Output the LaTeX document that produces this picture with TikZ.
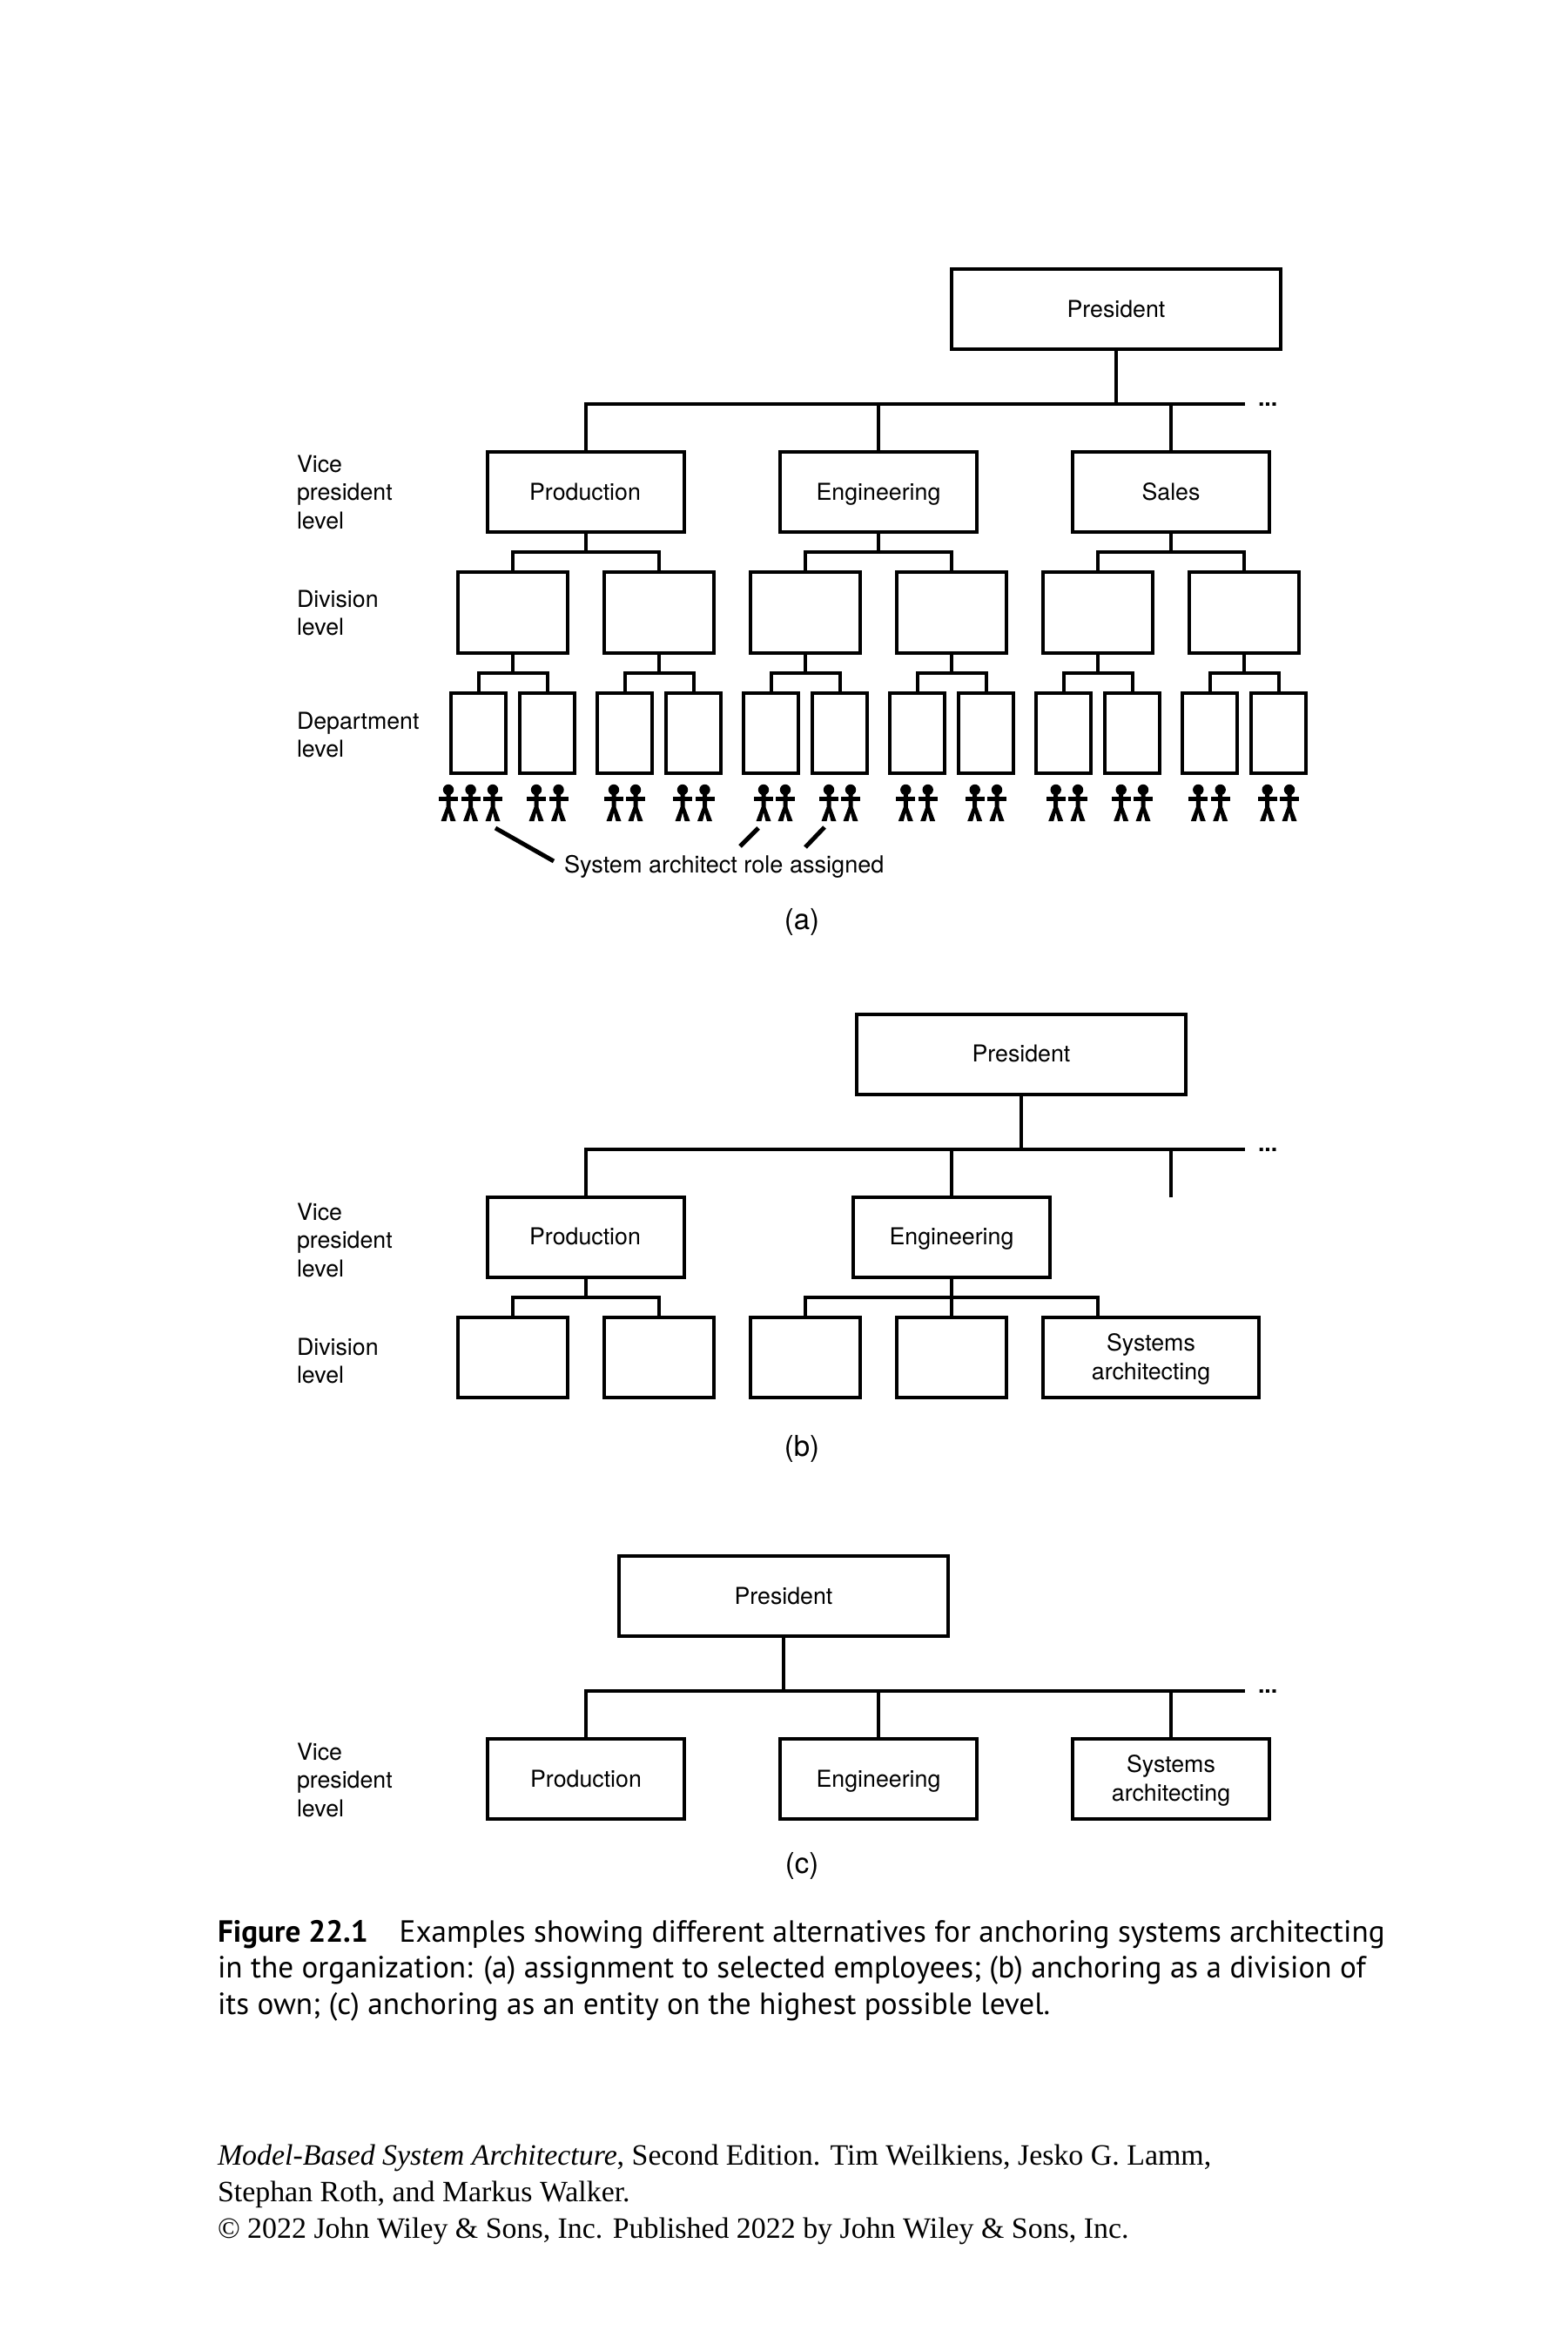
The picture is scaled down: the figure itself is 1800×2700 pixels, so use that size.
\documentclass[tikz,border=0pt]{standalone}
\usepackage{fontspec}
\setmainfont{TeX Gyre Heros}
\newfontfamily\capfont{PT Sans}
\newfontfamily\bookfont{Liberation Serif}
\newcommand{\PartFork}[3]{% parent, comma list of children, bus y
  \coordinate (forkTop) at (#1.south |- 0,#3);
  \draw[conn] (#1.south) -- (forkTop);
  \foreach \ch in {#2} {\draw[conn] (\ch.north) -- (\ch.north |- 0,#3);}
}
\newcommand{\Stick}[2]{% x position, node name
  \coordinate (#2) at (#1,907);
  \fill (#2) circle[radius=6.2];
  \fill ([shift={(-11,8)}]#2) rectangle ([shift={(11,13)}]#2);
  \fill ([shift={(-2.5,5)}]#2) -- ([shift={(2.5,5)}]#2) -- ([shift={(2.5,20)}]#2)
     -- ([shift={(8.5,36)}]#2) -- ([shift={(2.5,36)}]#2) -- ([shift={(0,26)}]#2)
     -- ([shift={(-2.5,36)}]#2) -- ([shift={(-8.5,36)}]#2) -- ([shift={(-2.5,20)}]#2) -- cycle;
}
\tikzset{
  x=1pt,y=-1pt,
  every node/.style={inner sep=0pt,outer sep=0pt,font=\fontsize{26.75}{33}\selectfont,text=black},
  bx/.style={draw=black,line width=4pt,fill=white,align=center},
  oneline/.style={text height=22.5pt,text depth=4.5pt},
  topbox/.style={bx,oneline,minimum width=378pt,minimum height=92pt},
  vpbox/.style={bx,oneline,minimum width=226pt,minimum height=92pt},
  vptwo/.style={bx,minimum width=226pt,minimum height=92pt,font=\fontsize{26.75}{32.6}\selectfont},
  divbox/.style={bx,minimum width=126pt,minimum height=93pt},
  systwo/.style={bx,minimum width=248pt,minimum height=92pt,font=\fontsize{26.75}{32.6}\selectfont},
  depbox/.style={bx,minimum width=63.5pt,minimum height=92.5pt},
  sidelabel/.style={anchor=north west,align=left,font=\fontsize{26.75}{32.4}\selectfont},
  conn/.style={line width=4pt,line cap=rect,draw=black},
  leader/.style={line width=5pt,draw=black},
  dots/.style={font=\fontsize{26.75}{33}\selectfont\bfseries,anchor=base west},
  rolelabel/.style={anchor=base west,font=\fontsize{27.1}{33}\selectfont},
  figlabel/.style={font=\fontsize{33}{40}\selectfont},
  capline/.style={anchor=base west,font=\capfont\fontsize{35.2}{40}\selectfont},
  bookline/.style={anchor=base west,font=\bookfont\fontsize{33.9}{40}\selectfont},
}
\begin{document}
\begin{tikzpicture}
\useasboundingbox[fill=white] (0,0) rectangle (1800,2700);
% ---------- (a)
\node[topbox] (preA) at (1282,355) {President};
\node[vpbox] (prodA) at (673,565) {\hspace*{-2pt}Production};
\node[vpbox] (engA) at (1009,565) {Engineering};
\node[vpbox] (salA) at (1345,565) {Sales};
\coordinate (busAL) at (673,464);
\coordinate (busAR) at (1428,464);
\draw[conn] (preA.south) -- (preA.south |- busAL);
\draw[conn] (busAL) -- (busAR);
\foreach \c in {prodA,engA,salA} {\draw[conn] (\c.north) -- (\c.north |- busAL);}
\node[dots] (dotsA) at (1445,466) {...};
\foreach \n/\x in {1/589,2/757,3/925,4/1093,5/1261,6/1429} {
  \node[divbox] (divA\n) at (\x,703.5) {};
}
\PartFork{prodA}{divA1,divA2}{634}
\PartFork{engA}{divA3,divA4}{634}
\PartFork{salA}{divA5,divA6}{634}
\draw[conn] (divA1.north |- 0,634) -- (divA2.north |- 0,634);
\draw[conn] (divA3.north |- 0,634) -- (divA4.north |- 0,634);
\draw[conn] (divA5.north |- 0,634) -- (divA6.north |- 0,634);
\foreach \n/\x in {1/549.5,2/628.5,3/717.5,4/796.5,5/885.5,6/964.5,7/1053.5,8/1132.5,9/1221.5,10/1300.5,11/1389.5,12/1468.5} {
  \node[depbox] (depA\n) at (\x,842) {};
}
\foreach \p/\a/\b in {1/1/2,2/3/4,3/5/6,4/7/8,5/9/10,6/11/12} {
  \PartFork{divA\p}{depA\a,depA\b}{773}
  \draw[conn] (depA\a.north |- 0,773) -- (depA\b.north |- 0,773);
}
\foreach \x [count=\i] in {515,540.6,566,616,641.5,705,730,784,809.5,877,902,952,977,1040.3,1065.7,1119.7,1145,1212.7,1238,1287.7,1313,1376.3,1401.7,1455.7,1481} {
  \Stick{\x}{manA\i}
}
\node[rolelabel] (roleA) at (648,1002) {System architect role assigned};
\coordinate (leadA1) at (569,951);
\coordinate (leadA2) at (871,951);
\coordinate (leadA3) at (947,950);
\coordinate (leadE1) at (636,989);
\coordinate (leadE2) at (850,972);
\coordinate (leadE3) at (925,973);
\draw[leader] (leadA1) -- (leadE1);
\draw[leader] (leadA2) -- (leadE2);
\draw[leader] (leadA3) -- (leadE3);
\node[sidelabel] (lvA1) at (341,523) {Vice\\president\\level};
\node[sidelabel] (lvA2) at (341,678) {Division\\level};
\node[sidelabel] (lvA3) at (341,818) {Department\\level};
\node[figlabel] (capA) at (921,1059) {(a)};
% ---------- (b)
\node[topbox] (preB) at (1173,1210.5) {President};
\node[vpbox] (prodB) at (673,1420.5) {\hspace*{-2pt}Production};
\node[vpbox] (engB) at (1093,1420.5) {Engineering};
\coordinate (busBL) at (673,1320);
\coordinate (busBR) at (1428,1320);
\coordinate (stubB) at (1345,1375);
\draw[conn] (preB.south) -- (preB.south |- busBL);
\draw[conn] (busBL) -- (busBR);
\foreach \c in {prodB,engB} {\draw[conn] (\c.north) -- (\c.north |- busBL);}
\draw[conn,line cap=butt] (stubB) -- (stubB |- busBL);
\node[dots] (dotsB) at (1445,1322) {...};
\foreach \n/\x in {1/589,2/757,3/925,4/1093} {
  \node[divbox,minimum height=92pt] (divB\n) at (\x,1559) {};
}
\node[systwo] (sysB) at (1322,1559) {\rule{0pt}{24pt}Systems\\architecting};
\coordinate (sysBStem) at (1261,1513);
\PartFork{prodB}{divB1,divB2}{1490}
\draw[conn] (divB1.north |- 0,1490) -- (divB2.north |- 0,1490);
\PartFork{engB}{divB3,divB4}{1490}
\draw[conn] (divB3.north |- 0,1490) -- (sysBStem |- 0,1490);
\draw[conn] (sysBStem) -- (sysBStem |- 0,1490);
\node[sidelabel] (lvB1) at (341,1382) {Vice\\president\\level};
\node[sidelabel] (lvB2) at (341,1536.5) {Division\\level};
\node[figlabel] (capB) at (921,1663.5) {(b)};
% ---------- (c)
\node[topbox] (preC) at (900,1833) {President};
\node[vpbox] (prodC) at (673,2043) {Production};
\node[vpbox] (engC) at (1009,2043) {Engineering};
\node[vptwo] (sysC) at (1345,2043) {\rule{0pt}{24pt}Systems\\architecting};
\coordinate (busCL) at (673,1942);
\coordinate (busCR) at (1428,1942);
\draw[conn] (preC.south) -- (preC.south |- busCL);
\draw[conn] (busCL) -- (busCR);
\foreach \c in {prodC,engC,sysC} {\draw[conn] (\c.north) -- (\c.north |- busCL);}
\node[dots] (dotsC) at (1445,1944) {...};
\node[sidelabel] (lvC1) at (341,2002) {Vice\\president\\level};
\node[figlabel] (capC) at (921,2143) {(c)};
% ---------- caption
\node[capline] (cap1) at (250,2230) {\textbf{Figure 22.1}\hspace{1.02em}Examples showing different alternatives for anchoring systems architecting};
\node[capline] (cap2) at (250,2271.5) {in the organization: (a) assignment to selected employees; (b) anchoring as a division of};
\node[capline] (cap3) at (250,2313) {its own; (c) anchoring as an entity on the highest possible level.};
\node[bookline] (bk1) at (250,2486.5) {\textit{Model-Based System Architecture}, Second Edition. Tim Weilkiens, Jesko G. Lamm,};
\node[bookline] (bk2) at (250,2528.5) {Stephan Roth, and Markus Walker.};
\node[bookline] (bk3) at (250,2570.5) {© 2022 John Wiley \& Sons, Inc. Published 2022 by John Wiley \& Sons, Inc.};
\end{tikzpicture}
\end{document}
